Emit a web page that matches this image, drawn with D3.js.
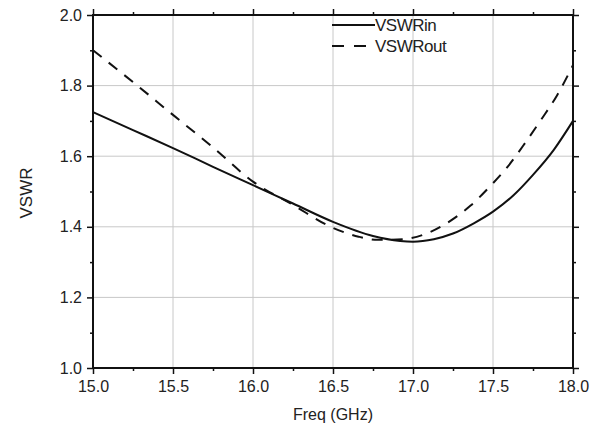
<!DOCTYPE html>
<html>
<head>
<meta charset="utf-8">
<script src="https://cdn.jsdelivr.net/npm/d3@7"></script>
<style>
  body { margin: 0; background: #fff; }
  text { font-family: "Liberation Sans", Arial, sans-serif; fill: #222; }
</style>
</head>
<body>
<svg id="chart" width="599" height="432"></svg>
<script>
// data
const freqIn = [15.0, 15.25, 15.5, 15.75, 16.0, 16.25, 16.5, 16.75, 16.92, 17.0, 17.13, 17.25, 17.38, 17.5, 17.63, 17.75, 17.88, 18.0];
const vswrIn = [1.725, 1.674, 1.623, 1.570, 1.518, 1.466, 1.414, 1.374, 1.360, 1.358, 1.365, 1.381, 1.410, 1.443, 1.490, 1.547, 1.618, 1.700];
const freqOut = [15.0, 15.25, 15.5, 15.75, 16.0, 16.25, 16.5, 16.66, 16.78, 16.94, 17.08, 17.21, 17.36, 17.48, 17.6, 17.7, 17.8, 17.9, 18.0];
const vswrOut = [1.900, 1.810, 1.717, 1.625, 1.528, 1.462, 1.397, 1.372, 1.363, 1.365, 1.380, 1.410, 1.460, 1.514, 1.575, 1.637, 1.703, 1.772, 1.858];
const xTicks = [15.0, 15.5, 16.0, 16.5, 17.0, 17.5, 18.0];
const yTicks = [1.0, 1.2, 1.4, 1.6, 1.8, 2.0];
const xMinor = [15.25, 15.75, 16.25, 16.75, 17.25, 17.75];
const yMinor = [1.1, 1.3, 1.5, 1.7, 1.9];
const legendLabels = ["VSWRin", "VSWRout"];

const M = { left: 93, right: 573, top: 15, bottom: 368 };
const svg = d3.select("#chart");

const x = d3.scaleLinear().domain([15, 18]).range([M.left, M.right]);
const y = d3.scaleLinear().domain([1, 2]).range([M.bottom, M.top]);

// GRID
svg.append("g").selectAll("line").data(xTicks.slice(1, -1)).join("line")
  .attr("x1", d => x(d)).attr("x2", d => x(d))
  .attr("y1", M.top).attr("y2", M.bottom)
  .style("stroke", "#c8c8c8").style("stroke-width", 1);
svg.append("g").selectAll("line").data(yTicks.slice(1, -1)).join("line")
  .attr("x1", M.left).attr("x2", M.right)
  .attr("y1", d => y(d)).attr("y2", d => y(d))
  .style("stroke", "#c8c8c8").style("stroke-width", 1);

// AXES (major ticks outward, minor ticks shorter)
function axisWithMinor(axisFn, scale, translate, major, minor, labels, pad) {
  const g = svg.append("g").attr("transform", translate);
  g.call(axisFn(scale).tickValues(major).tickSize(6).tickPadding(pad)
    .tickFormat(labels ? d3.format(".1f") : ""));
  g.call(gg => gg.select(".domain").remove());
  g.selectAll(".tick line").style("stroke", "#111").style("stroke-width", 1.5);
  const gm = svg.append("g").attr("transform", translate);
  gm.call(axisFn(scale).tickValues(minor).tickSize(3).tickFormat(""));
  gm.call(gg => gg.select(".domain").remove());
  gm.selectAll(".tick line").style("stroke", "#111").style("stroke-width", 1.5);
  return g;
}
const gx = axisWithMinor(d3.axisBottom, x, `translate(0,${M.bottom})`, xTicks, xMinor, true, 7);
const gy = axisWithMinor(d3.axisLeft, y, `translate(${M.left},0)`, yTicks, yMinor, true, 5);
axisWithMinor(d3.axisTop, x, `translate(0,${M.top})`, xTicks, xMinor, false, 3);
axisWithMinor(d3.axisRight, y, `translate(${M.right},0)`, yTicks, yMinor, false, 3);
gx.selectAll("text").style("font-size", "16px").style("font-family", "Liberation Sans, Arial, sans-serif").attr("fill", "#222");
gy.selectAll("text").style("font-size", "16px").style("font-family", "Liberation Sans, Arial, sans-serif").attr("fill", "#222");

// FRAME
svg.append("rect")
  .attr("x", M.left).attr("y", M.top)
  .attr("width", M.right - M.left).attr("height", M.bottom - M.top)
  .style("fill", "none").style("stroke", "#111").style("stroke-width", 2);

// CURVES
const line = d3.line().curve(d3.curveMonotoneX);
svg.append("path")
  .datum(freqIn.map((f, i) => [x(f), y(vswrIn[i])]))
  .attr("d", line)
  .style("fill", "none").style("stroke", "#111").style("stroke-width", 2);
svg.append("path")
  .datum(freqOut.map((f, i) => [x(f), y(vswrOut[i])]))
  .attr("d", line)
  .style("fill", "none").style("stroke", "#111").style("stroke-width", 2)
  .style("stroke-dasharray", "11,9");

// LEGEND
const legend = svg.append("g");
legendLabels.forEach((lab, i) => {
  const ly = 25 + i * 21;
  legend.append("line")
    .attr("x1", 332).attr("x2", 375).attr("y1", ly).attr("y2", ly)
    .style("stroke", "#111").style("stroke-width", 2)
    .style("stroke-dasharray", i === 1 ? "12,10" : null);
  legend.append("text")
    .attr("x", 375).attr("y", ly + 6)
    .style("font-size", "17px")
    .style("letter-spacing", "-0.5px")
    .text(lab);
});

// AXIS TITLES
svg.append("text")
  .attr("x", (M.left + M.right) / 2).attr("y", 420)
  .attr("text-anchor", "middle")
  .style("font-size", "16px")
  .text("Freq (GHz)");
svg.append("text")
  .attr("transform", `translate(32,193) rotate(-90)`)
  .attr("text-anchor", "middle")
  .style("font-size", "17px")
  .text("VSWR");
</script>
</body>
</html>
